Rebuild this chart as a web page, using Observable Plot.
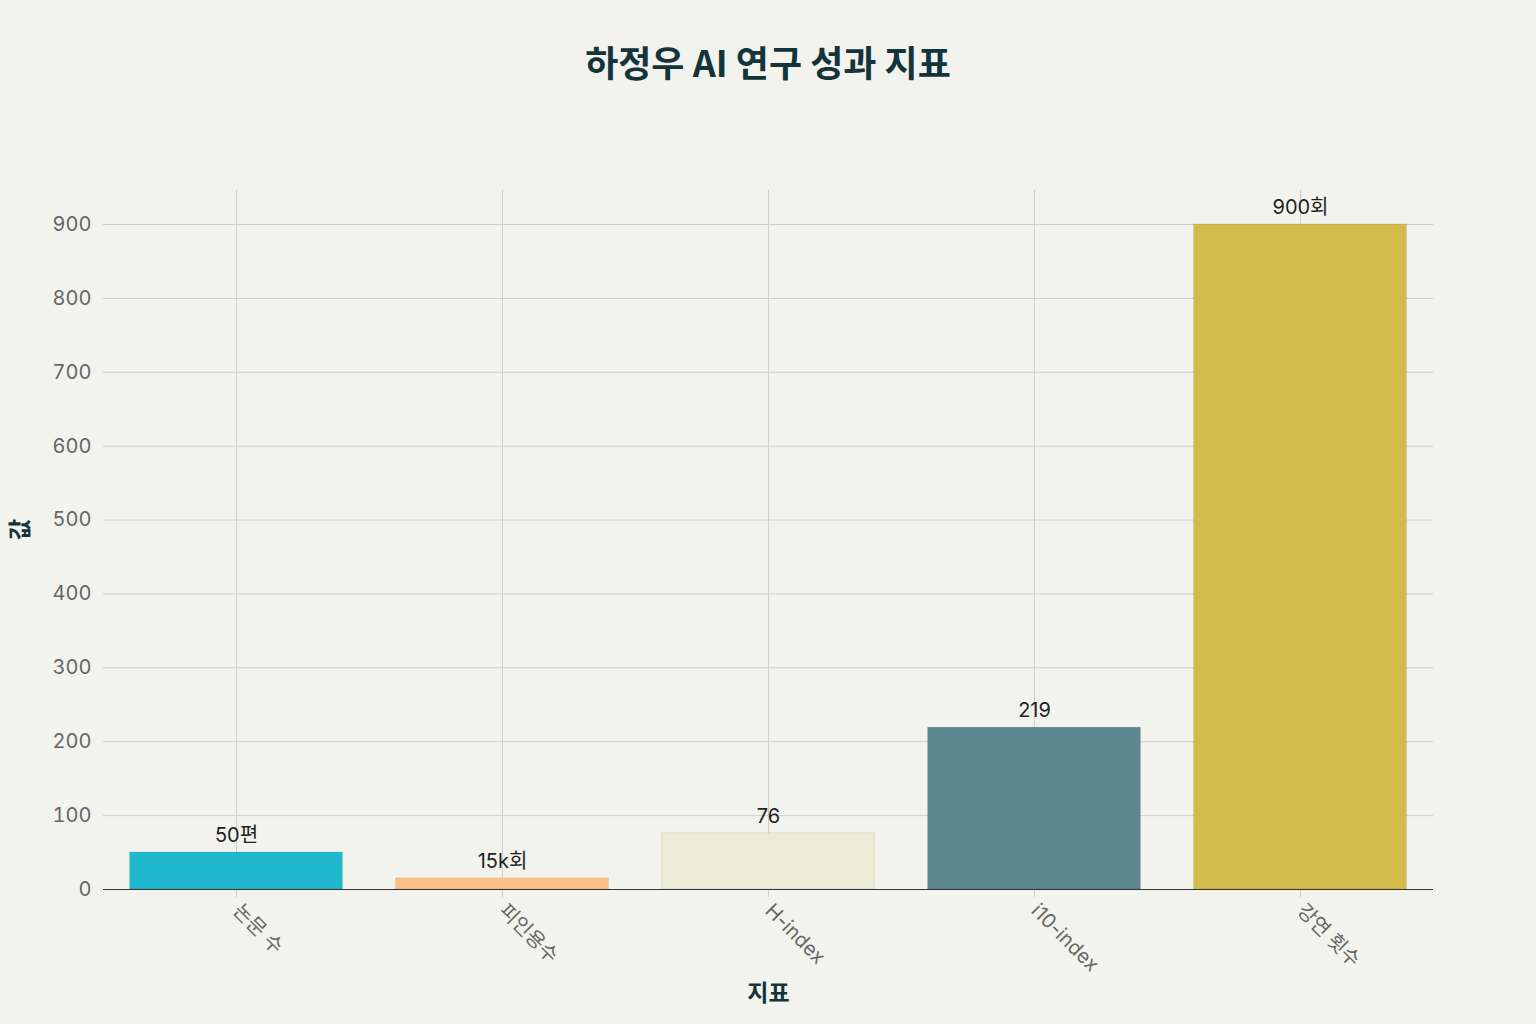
<!DOCTYPE html>
<html>
<head>
<meta charset="utf-8">
<script src="https://cdn.jsdelivr.net/npm/d3@7"></script>
<script src="https://cdn.jsdelivr.net/npm/@observablehq/plot@0.6"></script>
<style>
  html, body { margin: 0; padding: 0; background: #F3F3EE; }
  body { width: 1536px; height: 1024px; overflow: hidden; font-family: Inter, "Noto Sans CJK KR", sans-serif; }
  #title { height: 120px; box-sizing: border-box; padding-top: 37px; text-align: center; font-size: 36px; font-weight: 700; color: #13343B; line-height: 48px; font-family: "Noto Sans CJK KR", sans-serif; }
  #chart svg { display: block; background: #F3F3EE; }
</style>
</head>
<body>
<div id="title">하정우 AI 연구 성과 지표</div>
<div id="chart"></div>
<script>
const categories = ["논문 수", "피인용수", "H-index", "i10-index", "강연 횟수"];
const values = [50, 15, 76, 219, 900];
const valueLabels = ["50편", "15k회", "76", "219", "900회"];
const colors = ["#1FB8CD", "#FFC185", "#ECEBD5", "#5D878F", "#D2BA4C"];
const yTicks = [0, 100, 200, 300, 400, 500, 600, 700, 800, 900];
const xTitle = "지표";
const yTitle = "값";

const data = categories.map((c, i) => ({ cat: c, value: values[i], label: valueLabels[i], color: colors[i] }));

const font = "Inter, 'Noto Sans CJK KR', sans-serif";
const chart = Plot.plot({
  width: 1536,
  height: 904,
  marginTop: 70,
  marginBottom: 135,
  marginLeft: 103,
  marginRight: 103,
  style: { background: "#F3F3EE", fontFamily: font },
  x: { domain: categories, paddingInner: 0.2, paddingOuter: 0.1, round: false, label: null },
  y: { domain: [0, 946], label: null },
  marks: [
    Plot.gridY(yTicks, { stroke: "#cfcfca", strokeOpacity: 1, strokeWidth: 1 }),
    Plot.gridX(categories, { stroke: "#cfcfca", strokeOpacity: 1, strokeWidth: 1 }),
    Plot.axisY(yTicks, { tickSize: 0, tickPadding: 12, fontSize: 20, fill: "#666", label: null }),
    Plot.axisX({ tickSize: 8, tickPadding: 10, tickRotate: 45, fontSize: 20, fill: "#666", stroke: "#cfcfca", label: null }),
    Plot.barY(data, { x: "cat", y: "value", fill: "color", stroke: "#000", strokeOpacity: 0.08, strokeWidth: 1 }),
    Plot.ruleY([0], { stroke: "#333", strokeWidth: 1.2 }),
    Plot.text(data, { x: "cat", y: "value", text: "label", dy: -17, fontSize: 20, fill: "#1f1f1f" }),
    Plot.text([xTitle], { frameAnchor: "bottom", dy: 111, fontSize: 23, fontWeight: 700, fill: "#13343B", fontFamily: "'Noto Sans CJK KR', sans-serif" }),
    Plot.text([yTitle], { frameAnchor: "left", dx: -83, rotate: -90, fontSize: 23, fontWeight: 700, fill: "#13343B", fontFamily: "'Noto Sans CJK KR', sans-serif" })
  ]
});
document.getElementById("chart").appendChild(chart);
</script>
</body>
</html>
